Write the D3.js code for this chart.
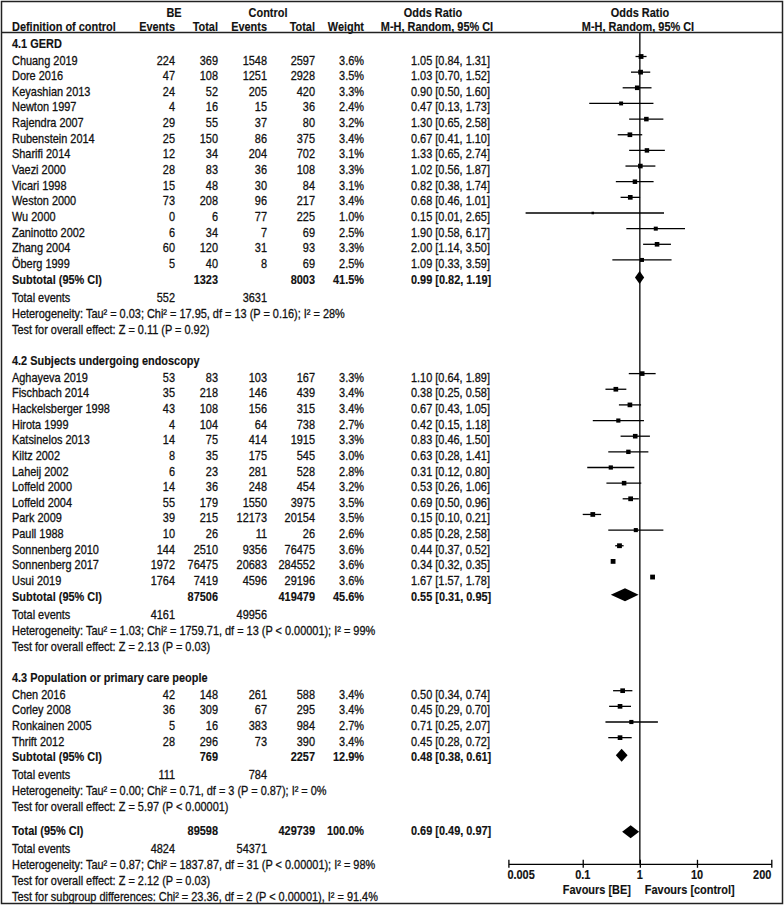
<!DOCTYPE html>
<html><head><meta charset="utf-8">
<script src="https://cdn.jsdelivr.net/npm/d3@7/dist/d3.min.js"></script>
<style>body{margin:0;background:#fff}text{font-family:"Liberation Sans",Arial,sans-serif;font-size:12.5px;fill:#111;stroke:#111;stroke-width:0.3px}</style>
</head><body><svg id="c" width="784" height="908"></svg>
<script>
// ---------- DATA ----------
const groupTitles = ["4.1 GERD", "4.2 Subjects undergoing endoscopy", "4.3 Population or primary care people"];

const gerdStudies = ["Chuang 2019","Dore 2016","Keyashian 2013","Newton 1997","Rajendra 2007","Rubenstein 2014","Sharifi 2014","Vaezi 2000","Vicari 1998","Weston 2000","Wu 2000","Zaninotto 2002","Zhang 2004","Öberg 1999"];
const gerdBeEvents = [224,47,24,4,29,25,12,28,15,73,0,6,60,5];
const gerdBeTotal = [369,108,52,16,55,150,34,83,48,208,6,34,120,40];
const gerdCtrlEvents = [1548,1251,205,15,37,86,204,36,30,96,77,7,31,8];
const gerdCtrlTotal = [2597,2928,420,36,80,375,702,108,84,217,225,69,93,69];
const gerdWeight = [3.6,3.5,3.3,2.4,3.2,3.4,3.1,3.3,3.1,3.4,1.0,2.5,3.3,2.5];
const gerdOR = [1.05,1.03,0.90,0.47,1.30,0.67,1.33,1.02,0.82,0.68,0.15,1.90,2.00,1.09];
const gerdLow = [0.84,0.70,0.50,0.13,0.65,0.41,0.65,0.56,0.38,0.46,0.01,0.58,1.14,0.33];
const gerdHigh = [1.31,1.52,1.60,1.73,2.58,1.10,2.74,1.87,1.74,1.01,2.65,6.17,3.50,3.59];

const endoStudies = ["Aghayeva 2019","Fischbach 2014","Hackelsberger 1998","Hirota 1999","Katsinelos 2013","Kiltz 2002","Laheij 2002","Loffeld 2000","Loffeld 2004","Park 2009","Paull 1988","Sonnenberg 2010","Sonnenberg 2017","Usui 2019"];
const endoBeEvents = [53,35,43,4,14,8,6,14,55,39,10,144,1972,1764];
const endoBeTotal = [83,218,108,104,75,35,23,36,179,215,26,2510,76475,7419];
const endoCtrlEvents = [103,146,156,64,414,175,281,248,1550,12173,11,9356,20683,4596];
const endoCtrlTotal = [167,439,315,738,1915,545,528,454,3975,20154,26,76475,284552,29196];
const endoWeight = [3.3,3.4,3.4,2.7,3.3,3.0,2.8,3.2,3.5,3.5,2.6,3.6,3.6,3.6];
const endoOR = [1.10,0.38,0.67,0.42,0.83,0.63,0.31,0.53,0.69,0.15,0.85,0.44,0.34,1.67];
const endoLow = [0.64,0.25,0.43,0.15,0.46,0.28,0.12,0.26,0.50,0.10,0.28,0.37,0.32,1.57];
const endoHigh = [1.89,0.58,1.05,1.18,1.50,1.41,0.80,1.06,0.96,0.21,2.58,0.52,0.35,1.78];

const popStudies = ["Chen 2016","Corley 2008","Ronkainen 2005","Thrift 2012"];
const popBeEvents = [42,36,5,28];
const popBeTotal = [148,309,16,296];
const popCtrlEvents = [261,67,383,73];
const popCtrlTotal = [588,295,984,390];
const popWeight = [3.4,3.4,2.7,3.4];
const popOR = [0.50,0.45,0.71,0.45];
const popLow = [0.34,0.29,0.25,0.28];
const popHigh = [0.74,0.70,2.07,0.72];

const subBeTotal = [1323, 87506, 769];
const subCtrlTotal = [8003, 419479, 2257];
const subWeight = ["41.5%", "45.6%", "12.9%"];
const subOR = [0.99, 0.55, 0.48];
const subLow = [0.82, 0.31, 0.38];
const subHigh = [1.19, 0.95, 0.61];
const subBeEvents = [552, 4161, 111];
const subCtrlEvents = [3631, 49956, 784];
const subHet = [
  "Heterogeneity: Tau² = 0.03; Chi² = 17.95, df = 13 (P = 0.16); I² = 28%",
  "Heterogeneity: Tau² = 1.03; Chi² = 1759.71, df = 13 (P < 0.00001); I² = 99%",
  "Heterogeneity: Tau² = 0.00; Chi² = 0.71, df = 3 (P = 0.87); I² = 0%"];
const subTest = [
  "Test for overall effect: Z = 0.11 (P = 0.92)",
  "Test for overall effect: Z = 2.13 (P = 0.03)",
  "Test for overall effect: Z = 5.97 (P < 0.00001)"];

const totalBeTotal = 89598, totalCtrlTotal = 429739, totalWeight = "100.0%";
const totalOR = 0.69, totalLow = 0.49, totalHigh = 0.97;
const totalBeEvents = 4824, totalCtrlEvents = 54371;
const totalNotes = [
  "Heterogeneity: Tau² = 0.87; Chi² = 1837.87, df = 31 (P < 0.00001); I² = 98%",
  "Test for overall effect: Z = 2.12 (P = 0.03)",
  "Test for subgroup differences: Chi² = 23.36, df = 2 (P < 0.00001), I² = 91.4%"];

const tickValues = [0.005, 0.1, 1, 10, 200];
const tickLabels = ["0.005", "0.1", "1", "10", "200"];

// ---------- BUILD ----------
const groups = [
  {names: gerdStudies, be: gerdBeEvents, bt: gerdBeTotal, ce: gerdCtrlEvents, ct: gerdCtrlTotal, w: gerdWeight, or: gerdOR, lo: gerdLow, hi: gerdHigh},
  {names: endoStudies, be: endoBeEvents, bt: endoBeTotal, ce: endoCtrlEvents, ct: endoCtrlTotal, w: endoWeight, or: endoOR, lo: endoLow, hi: endoHigh},
  {names: popStudies, be: popBeEvents, bt: popBeTotal, ce: popCtrlEvents, ct: popCtrlTotal, w: popWeight, or: popOR, lo: popLow, hi: popHigh}
];

const svg = d3.select("#c");
const SX = 0.875;
const fmt = d3.format(".2f");
const orText = (o, l, h) => `${fmt(o)} [${fmt(l)}, ${fmt(h)}]`;

const col = {name: 12, beEv: 175, beTot: 218, cEv: 267, cTot: 315, wt: 364, or: 411};
const x = d3.scaleLog().domain([0.005, 200]).range([508.4, 771.3]);

svg.append("defs").append("clipPath").attr("id", "clip")
  .append("rect").attr("x", 0).attr("y", 0).attr("width", 784).attr("height", 903);
const tg = svg.append("g").attr("clip-path", "url(#clip)");
const mg = svg.append("g");

function txt(px, cy, s, anchor = "start", bold = false) {
  tg.append("text")
    .attr("transform", `translate(${px},${cy + 4.5}) scale(${SX},1)`)
    .attr("text-anchor", anchor)
    .attr("font-weight", bold ? "bold" : "normal")
    .style("stroke-width", bold ? "0.15px" : "0.3px")
    .text(s);
}

// headers
txt(174, 12, "BE", "middle", true);
txt(268, 12, "Control", "middle", true);
txt(433, 12, "Odds Ratio", "middle", true);
txt(640, 12, "Odds Ratio", "middle", true);
txt(col.name, 26, "Definition of control", "start", true);
txt(col.beEv, 26, "Events", "end", true);
txt(col.beTot, 26, "Total", "end", true);
txt(col.cEv, 26, "Events", "end", true);
txt(col.cTot, 26, "Total", "end", true);
txt(col.wt, 26, "Weight", "end", true);
txt(437, 26, "M-H, Random, 95% CI", "middle", true);
txt(638, 26, "M-H, Random, 95% CI", "middle", true);

const rowH = 15.65;
const sq = d3.scaleSqrt().domain([0, 3.6]).range([0, 4.8]);
const diamondH = 6.5;

function diamond(o, l, h, cy) {
  mg.append("path")
    .attr("d", `M${x(l)},${cy} L${x(o)},${cy - diamondH} L${x(h)},${cy} L${x(o)},${cy + diamondH} Z`)
    .attr("fill", "#000");
}

let y = 43;
groups.forEach((g, gi) => {
  txt(col.name, y, groupTitles[gi], "start", true);
  y += 17;
  g.names.forEach((n, i) => {
    txt(col.name, y, n);
    txt(col.beEv, y, g.be[i], "end");
    txt(col.beTot, y, g.bt[i], "end");
    txt(col.cEv, y, g.ce[i], "end");
    txt(col.cTot, y, g.ct[i], "end");
    txt(col.wt, y, g.w[i].toFixed(1) + "%", "end");
    txt(col.or, y, orText(g.or[i], g.lo[i], g.hi[i]));
    const my = y - 3.5;
    mg.append("line").attr("x1", x(g.lo[i])).attr("x2", x(g.hi[i])).attr("y1", my).attr("y2", my)
      .attr("stroke", "#000").attr("stroke-width", 1.3);
    const s = sq(g.w[i]);
    mg.append("rect").attr("x", x(g.or[i]) - s / 2).attr("y", my - s / 2).attr("width", s).attr("height", s).attr("fill", "#000");
    y += rowH;
  });
  txt(col.name, y, "Subtotal (95% CI)", "start", true);
  txt(col.beTot, y, subBeTotal[gi], "end", true);
  txt(col.cTot, y, subCtrlTotal[gi], "end", true);
  txt(col.wt, y, subWeight[gi], "end", true);
  txt(col.or, y, orText(subOR[gi], subLow[gi], subHigh[gi]), "start", true);
  diamond(subOR[gi], subLow[gi], subHigh[gi], y - 1.5);
  y += 18;
  txt(col.name, y, "Total events");
  txt(col.beEv, y, subBeEvents[gi], "end");
  txt(col.cEv, y, subCtrlEvents[gi], "end");
  y += 16;
  txt(col.name, y, subHet[gi]);
  y += 16;
  txt(col.name, y, subTest[gi]);
  y += 31;
});
y -= 7;
const totalY = y;
txt(col.name, y, "Total (95% CI)", "start", true);
txt(col.beTot, y, totalBeTotal, "end", true);
txt(col.cTot, y, totalCtrlTotal, "end", true);
txt(col.wt, y, totalWeight, "end", true);
txt(col.or, y, orText(totalOR, totalLow, totalHigh), "start", true);
diamond(totalOR, totalLow, totalHigh, y + 1);
y += 17.5;
txt(col.name, y, "Total events");
txt(col.beEv, y, totalBeEvents, "end");
txt(col.cEv, y, totalCtrlEvents, "end");
totalNotes.forEach(t => { y += 16; txt(col.name, y, t); });

// axis
const axisY = totalY + 33;
mg.append("line").attr("x1", x(1)).attr("x2", x(1)).attr("y1", 32).attr("y2", axisY).attr("stroke", "#000").attr("stroke-width", 1.3);
const axis = d3.axisBottom(x).tickValues(tickValues).tickSize(0).tickFormat("");
const ag = mg.append("g").attr("transform", `translate(0,${axisY})`).call(axis);
ag.select(".domain").attr("stroke", "#000").attr("stroke-width", 1.3);
ag.selectAll(".tick").append("line").attr("y1", -4).attr("y2", 4).attr("stroke", "#000").attr("stroke-width", 1.3);
tickValues.forEach((v, i) => {
  const anchor = i === 0 ? "start" : (i === tickValues.length - 1 ? "end" : "middle");
  txt(x(v) - (i === 0 ? 1 : 0), axisY + 11, tickLabels[i], anchor, true);
});
txt(x(1) - 9, axisY + 26, "Favours [BE]", "end", true);
txt(x(1) + 5, axisY + 26, "Favours [control]", "start", true);

// frame
svg.append("line").attr("x1", 1).attr("x2", 783).attr("y1", 32.5).attr("y2", 32.5).attr("stroke", "#222").attr("stroke-width", 1.5);
svg.append("rect").attr("x", 1.5).attr("y", 1.5).attr("width", 781).attr("height", 902).attr("fill", "none").attr("stroke", "#222").attr("stroke-width", 1.5);
</script></body></html>
